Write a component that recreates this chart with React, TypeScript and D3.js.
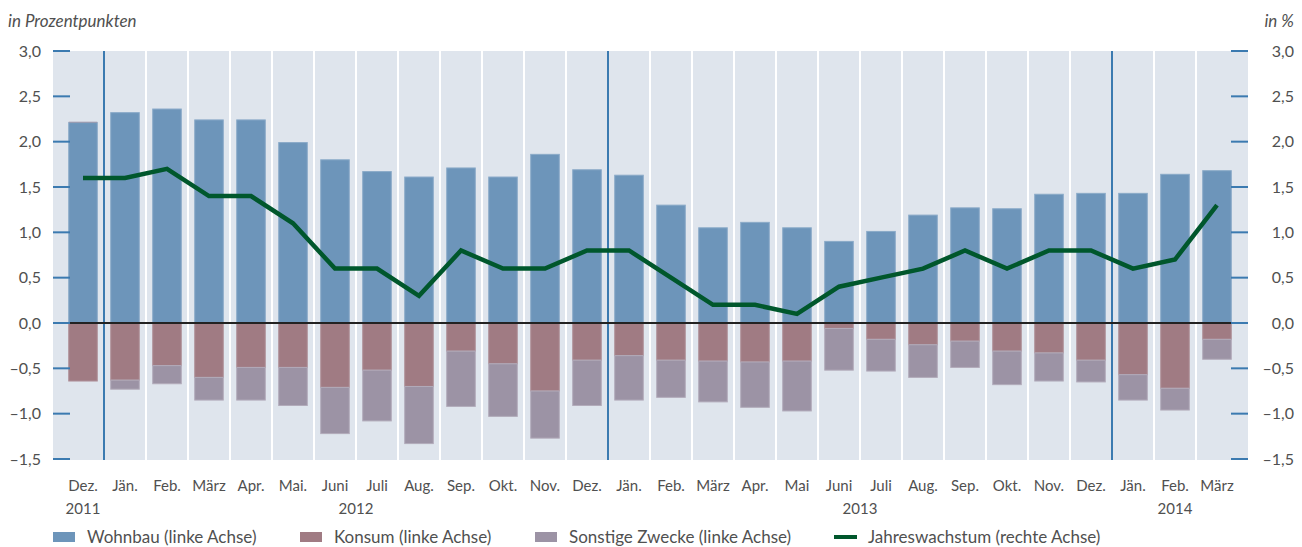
import React from "react";
import * as d3 from "d3";

const months = ["Dez.", "Jän.", "Feb.", "März", "Apr.", "Mai.", "Juni", "Juli", "Aug.", "Sep.", "Okt.", "Nov.", "Dez.", "Jän.", "Feb.", "März", "Apr.", "Mai", "Juni", "Juli", "Aug.", "Sep.", "Okt.", "Nov.", "Dez.", "Jän.", "Feb.", "März"];
const wohnbau = [2.21, 2.32, 2.36, 2.24, 2.24, 1.99, 1.80, 1.67, 1.61, 1.71, 1.61, 1.86, 1.69, 1.63, 1.30, 1.05, 1.11, 1.05, 0.90, 1.01, 1.19, 1.27, 1.26, 1.42, 1.43, 1.43, 1.64, 1.68];
const konsum = [-0.64, -0.63, -0.47, -0.60, -0.49, -0.49, -0.71, -0.52, -0.70, -0.31, -0.45, -0.75, -0.41, -0.36, -0.41, -0.42, -0.43, -0.42, -0.06, -0.18, -0.24, -0.20, -0.31, -0.33, -0.41, -0.57, -0.72, -0.18];
const sonstige = [0.01, -0.10, -0.20, -0.25, -0.36, -0.42, -0.51, -0.56, -0.63, -0.61, -0.58, -0.52, -0.50, -0.49, -0.41, -0.45, -0.50, -0.55, -0.46, -0.35, -0.36, -0.29, -0.37, -0.31, -0.24, -0.28, -0.24, -0.22];
const wachstum = [1.6, 1.6, 1.7, 1.4, 1.4, 1.1, 0.6, 0.6, 0.3, 0.8, 0.6, 0.6, 0.8, 0.8, 0.5, 0.2, 0.2, 0.1, 0.4, 0.5, 0.6, 0.8, 0.6, 0.8, 0.8, 0.6, 0.7, 1.3];
const yTicks = [3.0, 2.5, 2.0, 1.5, 1.0, 0.5, 0.0, -0.5, -1.0, -1.5];
const yearLabels = [
  { label: "2011", from: 0, to: 0 },
  { label: "2012", from: 6, to: 7 },
  { label: "2013", from: 18, to: 19 },
  { label: "2014", from: 26, to: 26 },
];
const yearBreaks = [1, 13, 25];
const legendItems = [
  { label: "Wohnbau (linke Achse)", type: "rect", color: "#6d95ba" },
  { label: "Konsum (linke Achse)", type: "rect", color: "#a07b83" },
  { label: "Sonstige Zwecke (linke Achse)", type: "rect", color: "#9c93a5" },
  { label: "Jahreswachstum (rechte Achse)", type: "line", color: "#00572c" },
];

const W = 1302;
const H = 547;
const FONT = "Lato, 'Open Sans', sans-serif";
const TEXT = "#505050";
const BLUE_TICK = "#3b7ab0";

export default function App() {
  const plotLeft = 53;
  const plotRight = 1248;
  const plotTop = 51;
  const plotBottom = 460;
  const idx = months.map((_, i) => i);
  const x = d3.scaleBand<number>().domain(idx).range([62, 1238]).padding(0);
  const bw = x.bandwidth();
  const barW = bw * 0.68;
  const y = d3.scaleLinear().domain([-1.5, 3]).range([459, 51]);
  const yR = d3.scaleLinear().domain([-1.5, 3]).range([459, 51]);
  const cx = (i: number) => (x(i) as number) + bw / 2;

  const fmt = (v: number) => {
    const s = Math.abs(v).toFixed(1).replace(".", ",");
    return v < 0 ? "\u2013" + s : s;
  };

  const line = d3
    .line<number>()
    .x((_, i) => cx(i))
    .y((d) => yR(d));

  const fmtTitle = { fontFamily: FONT, fontSize: 17, fill: TEXT, fontStyle: "italic" as const };

  const legendX = [53, 300, 535, 834];

  return (
    <svg width={W} height={H} style={{ position: "absolute", left: 0, top: 0, background: "#fff" }}>
      <rect x={plotLeft} y={plotTop} width={plotRight - plotLeft} height={plotBottom - plotTop} fill="#dfe5ed" />
      {idx.slice(1).map((i) =>
        yearBreaks.includes(i) ? null : (
          <line key={"sep" + i} x1={x(i)} x2={x(i)} y1={plotTop} y2={plotBottom} stroke="#fff" strokeWidth={2} />
        )
      )}
      {idx.map((i) => {
        const x0 = cx(i) - barW / 2;
        const rects: React.ReactNode[] = [];
        rects.push(
          <rect key="w" x={x0} y={y(wohnbau[i])} width={barW} height={y(0) - y(wohnbau[i])} fill="#6d95ba" stroke="#8aaac8" strokeWidth={1} />
        );
        rects.push(
          <rect key="k" x={x0} y={y(0)} width={barW} height={y(konsum[i]) - y(0)} fill="#a07b83" stroke="#b0929a" strokeWidth={1} />
        );
        const s = sonstige[i];
        if (s >= 0) {
          rects.push(
            <rect key="s" x={x0} y={y(wohnbau[i] + s)} width={barW} height={y(wohnbau[i]) - y(wohnbau[i] + s)} fill="#9c93a5" />
          );
        } else {
          rects.push(
            <rect key="s" x={x0} y={y(konsum[i])} width={barW} height={y(konsum[i] + s) - y(konsum[i])} fill="#9c93a5" stroke="#b2abba" strokeWidth={1} />
          );
        }
        return <g key={"bar" + i}>{rects}</g>;
      })}
      {yearBreaks.map((i) => (
        <line key={"yb" + i} x1={x(i)} x2={x(i)} y1={plotTop} y2={plotBottom} stroke={BLUE_TICK} strokeWidth={2} />
      ))}
      <line x1={plotLeft} x2={plotRight - 2} y1={y(0)} y2={y(0)} stroke="#222" strokeWidth={2} />
      {yTicks.map((t) => (
        <g key={"t" + t}>
          <line x1={plotLeft} x2={70} y1={y(t)} y2={y(t)} stroke={BLUE_TICK} strokeWidth={2} />
          <line x1={1231} x2={plotRight} y1={yR(t)} y2={yR(t)} stroke={BLUE_TICK} strokeWidth={2} />
          <text x={41} y={y(t)} dy="0.35em" textAnchor="end" fontFamily={FONT} fontSize={16} fill={TEXT}>
            {fmt(t)}
          </text>
          <text x={1294} y={yR(t)} dy="0.35em" textAnchor="end" fontFamily={FONT} fontSize={16} fill={TEXT}>
            {fmt(t)}
          </text>
        </g>
      ))}
      <path d={line(wachstum) || ""} fill="none" stroke="#00572c" strokeWidth={4.5} strokeLinejoin="miter" strokeLinecap="butt" />
      {months.map((m, i) => (
        <text key={"m" + i} x={cx(i)} y={491} textAnchor="middle" fontFamily={FONT} fontSize={15} fill={TEXT}>
          {m}
        </text>
      ))}
      {yearLabels.map((yl) => (
        <text key={yl.label} x={(cx(yl.from) + cx(yl.to)) / 2} y={514} textAnchor="middle" fontFamily={FONT} fontSize={15} fill={TEXT}>
          {yl.label}
        </text>
      ))}
      <text x={8} y={27} {...fmtTitle}>in Prozentpunkten</text>
      <text x={1294} y={27} textAnchor="end" {...fmtTitle}>in %</text>
      {legendItems.map((it, i) => (
        <g key={"lg" + i} transform={`translate(${legendX[i]},0)`}>
          {it.type === "rect" ? (
            <rect x={0} y={532} width={22} height={10} fill={it.color} />
          ) : (
            <line x1={0} x2={23} y1={537} y2={537} stroke={it.color} strokeWidth={4} />
          )}
          <text x={34} y={537} dy="0.35em" fontFamily={FONT} fontSize={17} fill={TEXT}>
            {it.label}
          </text>
        </g>
      ))}
    </svg>
  );
}
